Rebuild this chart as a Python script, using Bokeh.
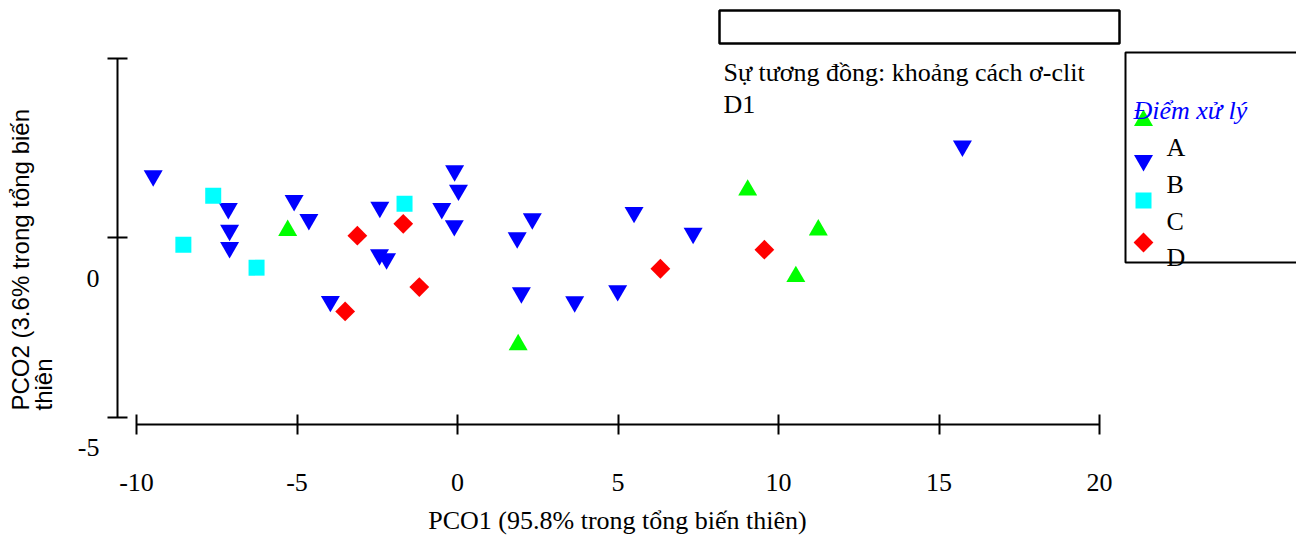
from bokeh.plotting import figure
from bokeh.models import Range1d, FixedTicker, Label, LinearAxis
from bokeh.embed import file_html
from bokeh.resources import INLINE
import math

# ---------------- data ----------------
groups = ["A", "B", "C", "D"]
a_x = [-5.29, 9.04, 11.24, 10.54, 1.89]
a_y = [0.195, 1.32, 0.21, -1.09, -2.99]
b_x = [-9.48, -7.14, -7.10, -7.10, -5.09, -4.63, -3.96, -2.42, -2.43, -2.21, -0.09,
       0.03, -0.49, -0.10, 2.33, 1.86, 1.99, 3.65, 4.99, 5.50, 7.34, 15.73]
b_y = [1.72, 0.81, 0.20, -0.28, 1.03, 0.50, -1.78, 0.84, -0.48, -0.59, 1.86,
       1.32, 0.81, 0.33, 0.52, -0.01, -1.54, -1.79, -1.48, 0.70, 0.12, 2.55]
c_x = [-7.61, -8.54, -6.26, -1.65]
c_y = [1.16, -0.20, -0.84, 0.94]
d_x = [-3.50, -3.12, -1.69, -1.19, 6.32, 9.56]
d_y = [-2.06, 0.05, 0.38, -1.38, -0.87, -0.34]

x_ticks = [-10, -5, 0, 5, 10, 15, 20]
x_tick_labels = ["-10", "-5", "0", "5", "10", "15", "20"]
y_ticks = [-5, 0, 5]
y_tick_label_values = [-5, 0]
y_tick_labels = ["-5", "0"]
x_title = "PCO1 (95.8% trong tổng biến thiên)"
y_title_lines = ["PCO2 (3.6% trong tổng biến", "thiên"]
note_lines = ["Sự tương đồng: khoảng cách ơ-clit", "D1"]
legend_title = "Điểm xử lý"

# ---------------- layout ----------------
W, H = 1296, 537
XPX = 32.1          # px per x unit
YPX = 35.9          # px per y unit
X_M10 = 136         # pixel x of x=-10
Y_0 = 237           # pixel y of y=0
XAXIS_PX = 424      # pixel y of the x axis line
YAXIS_PX = 117      # pixel x of the y axis line

x_start = -10 - X_M10 / XPX
x_end = x_start + W / XPX
y_end = Y_0 / YPX
y_start = -(H - Y_0) / YPX

SERIF = "Liberation Serif"
SANS = "Liberation Sans"
FS = "26px"

p = figure(width=W, height=H, x_range=Range1d(x_start, x_end), y_range=Range1d(y_start, y_end),
           output_backend="svg", toolbar_location=None, x_axis_type=None, y_axis_type=None,
           min_border_left=0, min_border_right=0, min_border_top=0, min_border_bottom=0)
p.outline_line_color = None
p.background_fill_color = "white"
p.border_fill_color = "white"
p.extra_x_ranges = {"cx": Range1d(0, W)}
p.extra_y_ranges = {"cy": Range1d(H, 0)}

xaxis = LinearAxis(ticker=FixedTicker(ticks=x_ticks), bounds=(-10, 20),
                   fixed_location=(Y_0 - XAXIS_PX) / YPX)
xaxis.major_label_overrides = {t: s for t, s in zip(x_ticks, x_tick_labels)}
xaxis.axis_line_width = 2
xaxis.major_tick_line_width = 2
xaxis.major_tick_in = 10
xaxis.major_tick_out = 10
xaxis.minor_tick_line_color = None
xaxis.major_label_text_font = SERIF
xaxis.major_label_text_font_size = FS
xaxis.major_label_text_color = "black"
xaxis.major_label_standoff = 39
p.add_layout(xaxis, "below")

yaxis = LinearAxis(ticker=FixedTicker(ticks=y_ticks), bounds=(-5, 5),
                   fixed_location=-10 - (X_M10 - YAXIS_PX) / XPX)
yaxis.axis_line_width = 2
yaxis.major_tick_line_width = 2
yaxis.major_tick_in = 10
yaxis.major_tick_out = 10
yaxis.minor_tick_line_color = None
yaxis.major_label_text_font_size = "0px"
yaxis.major_label_text_alpha = 0
p.add_layout(yaxis, "left")

# y tick labels (drawn shifted below their ticks, as in the reference)
y_label_offsets = [-30.5, -41]
for v, t, off in zip(y_tick_label_values, y_tick_labels, y_label_offsets):
    p.add_layout(Label(x=99, x_range_name="cx", y=v, y_offset=off, text=t,
                       text_align="right", text_baseline="middle",
                       text_font=SERIF, text_font_size=FS, text_color="black"))

# points
p.scatter(b_x, b_y, marker="inverted_triangle", size=19, fill_color="#0000FF", line_color=None)
p.scatter(c_x, c_y, marker="square", size=16, fill_color="#00FFFF", line_color=None)
p.scatter(d_x, d_y, marker="square", size=14, angle=math.pi / 4, fill_color="#FF0000", line_color=None)
p.scatter(a_x, a_y, marker="triangle", size=19, fill_color="#00FF00", line_color=None)

# axis titles
p.add_layout(Label(x=617, y=520, x_range_name="cx", y_range_name="cy", text=x_title,
                   text_align="center", text_baseline="middle",
                   text_font=SERIF, text_font_size=FS, text_color="black"))
for i, line in enumerate(y_title_lines):
    p.add_layout(Label(x=20 + 23 * i, y=410, x_range_name="cx", y_range_name="cy", text=line,
                       angle=math.pi / 2, text_align="left", text_baseline="middle",
                       text_font=SANS, text_font_size="24px", text_color="black"))

# empty title box and note
p.quad(left=[719], right=[1119], top=[10], bottom=[43], x_range_name="cx", y_range_name="cy",
       fill_color=None, line_color="black", line_width=2.5)
for i, line in enumerate(note_lines):
    p.add_layout(Label(x=723, y=72 + 32 * i, x_range_name="cx", y_range_name="cy", text=line,
                       text_align="left", text_baseline="middle",
                       text_font=SERIF, text_font_size=FS, text_color="black"))

# legend
p.quad(left=[1125], right=[1310], top=[52], bottom=[262], x_range_name="cx", y_range_name="cy",
       fill_color="white", line_color="black", line_width=2)
p.add_layout(Label(x=1133, y=110, x_range_name="cx", y_range_name="cy", text=legend_title,
                   text_align="left", text_baseline="middle", text_font=SERIF,
                   text_font_size=FS, text_font_style="italic", text_color="#0000FF"))
leg_markers = ["triangle", "inverted_triangle", "square", "square"]
leg_colors = ["#00FF00", "#0000FF", "#00FFFF", "#FF0000"]
leg_sizes = [19, 19, 16, 14]
leg_angles = [0, 0, 0, math.pi / 4]
leg_marker_y = [120, 160, 200, 242]
leg_label_y = [147, 184, 221, 257]
for g, m, c, s, a, my, ly in zip(groups, leg_markers, leg_colors, leg_sizes, leg_angles,
                                 leg_marker_y, leg_label_y):
    p.scatter([1143], [my], marker=m, size=s, angle=a, fill_color=c, line_color=None,
              x_range_name="cx", y_range_name="cy")
    p.add_layout(Label(x=1166, y=ly, x_range_name="cx", y_range_name="cy", text=g,
                       text_align="left", text_baseline="middle",
                       text_font=SERIF, text_font_size=FS, text_color="black"))

open("out.html", "w").write(file_html(p, INLINE))
